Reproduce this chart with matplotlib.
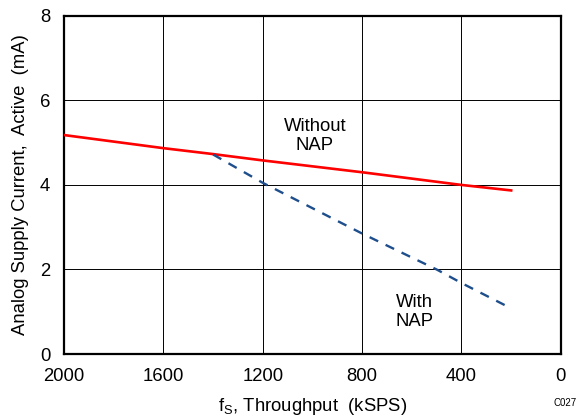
import numpy as np
import matplotlib
matplotlib.use('Agg')
from matplotlib import pyplot as plt

plt.rcParams['font.family'] = ['Liberation Sans', 'DejaVu Sans']

# throughput (kSPS) and current (mA)
fs_without = [2000, 1600, 1400, 1200, 800, 400, 200]
i_without = [5.18, 4.87, 4.73, 4.58, 4.30, 4.00, 3.87]
fs_with = [1400, 1200, 800, 500, 400, 200]
i_with = [4.72, 4.05, 2.85, 2.00, 1.68, 1.08]

x_ticks = [2000, 1600, 1200, 800, 400, 0]
y_ticks = [0, 2, 4, 6, 8]

fig = plt.figure(figsize=(5.77, 4.17), dpi=100)
ax = fig.add_axes([0.111, 0.151, 0.861, 0.811])

ax.plot(fs_without, i_without, color='#ff0000', lw=1.9, zorder=3)
ax.plot(fs_with, i_with, color='#1f4e8c', lw=1.7, ls=(0, (4, 3.5)), zorder=3)

ax.set_xlim(2000, 0)
ax.set_ylim(0, 8)
ax.set_xticks(x_ticks)
ax.set_yticks(y_ticks)
ax.grid(True, color='black', lw=0.7)
ax.tick_params(length=0, labelsize=13.3, pad=10)
for s in ax.spines.values():
    s.set_linewidth(1.6)

ax.set_xlabel('f$_\\mathregular{S}$, Throughput  (kSPS)', fontsize=13.3, labelpad=8)
ax.set_ylabel('Analog Supply Current,  Active  (mA)', fontsize=13.3, labelpad=8)

ax.text(990, 5.15, 'Without\nNAP', ha='center', va='center', fontsize=13.3, linespacing=1.15)
ax.text(590, 0.99, 'With\nNAP', ha='center', va='center', fontsize=13.3, linespacing=1.15)
fig.text(0.999, 0.022, 'C027', ha='right', va='bottom', fontsize=7)

fig.savefig('out.png', dpi=100)
